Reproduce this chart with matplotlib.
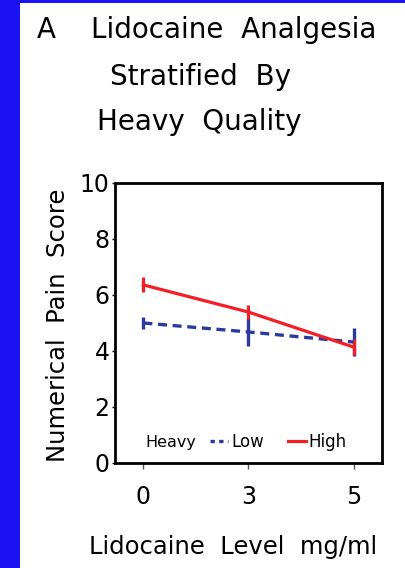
import numpy as np
import matplotlib
matplotlib.use("Agg")
import matplotlib.pyplot as plt
from matplotlib.lines import Line2D
from matplotlib.patches import Rectangle

# Data
levels = ["0", "3", "5"]
low_mean = [5.0, 4.68, 4.32]
low_err = [0.2, 0.5, 0.5]
high_mean = [6.36, 5.39, 4.14]
high_err = [0.27, 0.25, 0.28]

plt.rcParams['font.family'] = ['DejaVu Sans']

red = '#f41e26'
blue = '#2b3a9c'
bg_blue = '#1a12f2'

W, H = 405, 568
fig = plt.figure(figsize=(W/100, H/100), dpi=100)
# blue frame strips on the left and top edge
fig.patches.append(Rectangle((0, 0), 20/W, 1, transform=fig.transFigure,
                             facecolor=bg_blue, edgecolor='none'))
fig.patches.append(Rectangle((0, 1 - 3/H), 1, 3/H, transform=fig.transFigure,
                             facecolor=bg_blue, edgecolor='none'))

ax = fig.add_axes([115/W, 105/H, 267/W, 280/H])
x = np.arange(len(levels))

ax.errorbar(x, low_mean, yerr=low_err, color=blue, lw=2.4,
            linestyle=(0, (2.7, 1.7)), elinewidth=2.4, capsize=0)
ax.errorbar(x, high_mean, yerr=high_err, color=red, lw=2.3,
            elinewidth=2.3, capsize=0)

ax.set_xlim(-0.27, 2.27)
ax.set_ylim(0, 10)
ax.set_xticks(x)
ax.set_xticklabels(levels)
ax.set_yticks([0, 2, 4, 6, 8, 10])
ax.tick_params(axis='x', length=4, width=1, color='#555555', pad=12, labelsize=17)
ax.tick_params(axis='y', length=2, width=1, pad=2, labelsize=17)
for s in ax.spines.values():
    s.set_linewidth(2)

fig.text(233/W, 1 - 547/H, "Lidocaine  Level  mg/ml", fontsize=17.5,
         ha='center', va='center')
fig.text(58/W, 1 - 325/H, "Numerical  Pain  Score", fontsize=17.5,
         rotation=90, ha='center', va='center')

# legend
ax.text(0.112, 0.075, "Heavy", transform=ax.transAxes, fontsize=11.5,
        va='center', ha='left')
handles = [Line2D([], [], color=blue, lw=2.4, linestyle=(0, (1.3, 1.3))),
           Line2D([], [], color=red, lw=2.3)]
ax.legend(handles, ["Low", "High"], ncol=2, frameon=False, fontsize=12,
          loc='center left', bbox_to_anchor=(0.356, 0.075),
          handlelength=1.1, handletextpad=0.15, columnspacing=1.45,
          borderpad=0, borderaxespad=0)

# title
fig.text(37/W, 1 - 30/H, "A", fontsize=20, ha='left', va='center')
fig.text(234/W, 1 - 30/H, "Lidocaine  Analgesia", fontsize=20,
         ha='center', va='center')
fig.text(201/W, 1 - 77/H, "Stratified  By", fontsize=20,
         ha='center', va='center')
fig.text(199/W, 1 - 122/H, "Heavy  Quality", fontsize=20,
         ha='center', va='center')

fig.savefig("out.png", dpi=100)
